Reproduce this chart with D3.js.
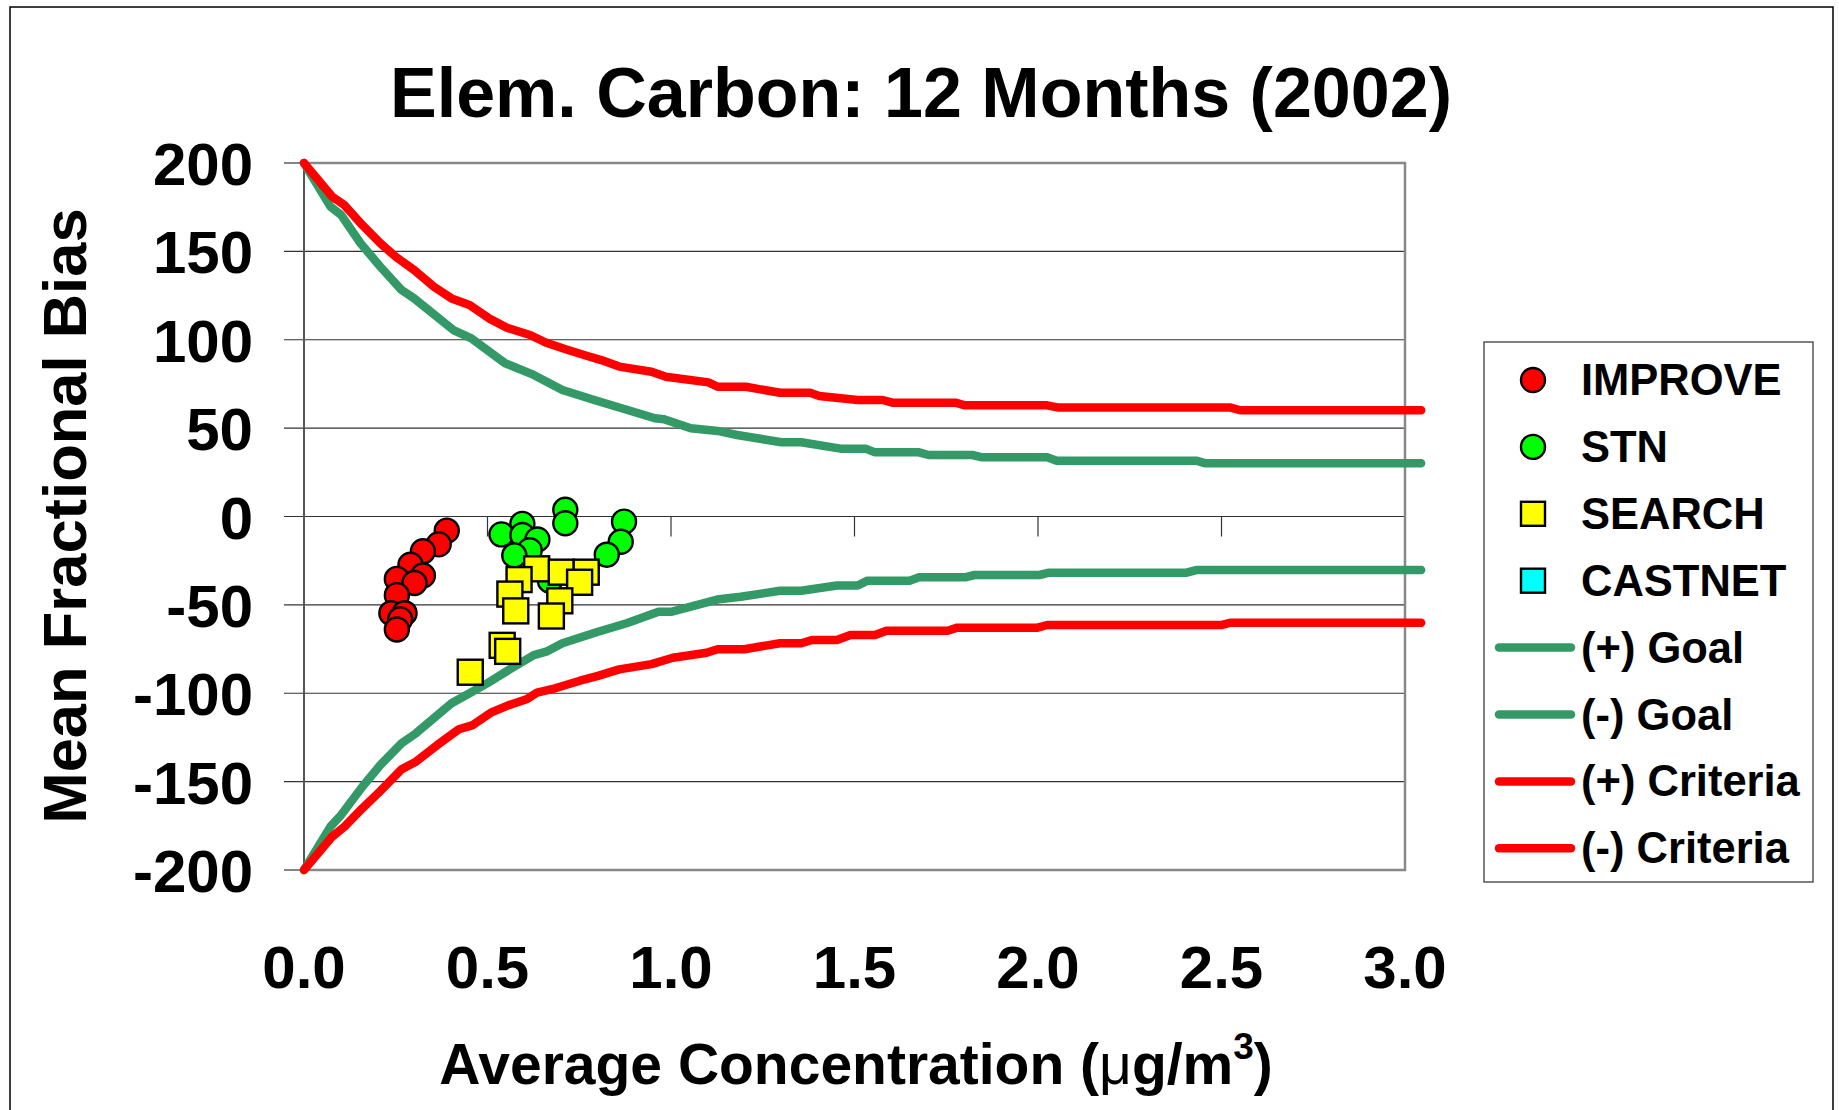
<!DOCTYPE html>
<html>
<head>
	<meta http-equiv="Content-Type" content="text/html; charset=utf-8">
	<title>Elem. Carbon MFB</title>
	<script src="https://d3js.org/d3.v7.min.js"></script>
	<style>
		body { margin: 0; background: #fff; }
		text {
			font-family: 'Liberation Sans', Arial, sans-serif;
			font-weight: bold;
			fill: #000;
		}
		.grid line { stroke: #333; stroke-width: 1.2; }
		.curve { fill: none; stroke-width: 8.5; stroke-linejoin: round; stroke-linecap: round; }
	</style>
</head>
<body>
<script>
	// observations
	var improveX = [0.389, 0.367, 0.324, 0.290, 0.324, 0.253, 0.301, 0.253, 0.238, 0.274, 0.262, 0.253];
	var improveY = [-8.0, -15.7, -19.7, -27.3, -33.4, -35.3, -37.6, -44.5, -54.7, -54.7, -58.2, -63.9];

	var stnX = [0.670, 0.712, 0.712, 0.595, 0.538, 0.595, 0.636, 0.615, 0.573, 0.872, 0.863, 0.825];
	var stnY = [-36.3, 3.8, -3.8, -4.2, -10.1, -10.5, -13.0, -19.1, -22.0, -2.9, -14.3, -21.6];

	var searchX = [0.634, 0.701, 0.769, 0.751, 0.586, 0.561, 0.697, 0.577, 0.674, 0.540, 0.555, 0.453];
	var searchY = [-29.6, -31.5, -31.5, -37.2, -35.7, -43.9, -47.7, -53.4, -56.3, -72.9, -76.3, -88.1];

	var castnetX = [];
	var castnetY = [];

	// goal / criteria curves
	var goalPosX = [0, 0.072, 0.101, 0.154, 0.208, 0.266, 0.300, 0.407, 0.456, 0.548, 0.626, 0.704, 0.791, 0.956, 0.981, 1.054, 1.127, 1.180, 1.301, 1.355, 1.462, 1.530, 1.556, 1.676, 1.702, 1.821, 1.848, 2.025, 2.051, 2.431, 2.457, 3.044];
	var goalPosY = [200, 175.3, 170.6, 154.6, 141.3, 128.1, 123.4, 105.5, 100.8, 86.7, 80.1, 71.6, 65.9, 55.6, 55.0, 49.9, 48.4, 46.1, 42.0, 42.0, 38.4, 38.4, 36.3, 36.3, 34.8, 34.8, 33.5, 33.5, 31.6, 31.6, 30.1, 30.1];

	var goalNegX = [0, 0.072, 0.101, 0.159, 0.208, 0.266, 0.305, 0.402, 0.451, 0.499, 0.558, 0.626, 0.660, 0.704, 0.801, 0.879, 0.966, 1.000, 1.054, 1.131, 1.190, 1.297, 1.355, 1.452, 1.509, 1.535, 1.650, 1.676, 1.801, 1.827, 2.004, 2.030, 2.405, 2.431, 3.044];
	var goalNegY = [-200, -175.5, -168.9, -152.9, -140.6, -128.3, -122.7, -105.7, -100.0, -94.4, -86.8, -78.4, -76.5, -71.7, -65.2, -60.4, -53.9, -53.9, -51.0, -46.8, -45.4, -42.0, -42.0, -39.0, -39.0, -36.3, -36.3, -34.4, -34.4, -33.1, -33.1, -31.8, -31.8, -30.3, -30.3];

	var critPosX = [0, 0.077, 0.110, 0.159, 0.208, 0.252, 0.300, 0.354, 0.402, 0.451, 0.504, 0.553, 0.616, 0.660, 0.713, 0.772, 0.810, 0.859, 0.947, 0.986, 1.102, 1.127, 1.204, 1.297, 1.379, 1.404, 1.509, 1.577, 1.603, 1.775, 1.801, 2.025, 2.056, 2.525, 2.551, 3.044];
	var critPosY = [200, 180.9, 176.2, 164.9, 154.6, 146.6, 139.5, 130, 123.4, 119.7, 112.1, 106.8, 102.7, 98.3, 94.6, 90.8, 88.5, 84.8, 81.9, 79.1, 75.9, 73.4, 73.4, 70.0, 70.0, 68.2, 65.9, 65.9, 64.4, 64.4, 62.9, 62.9, 61.6, 61.6, 60.1, 60.1];

	var critNegX = [0, 0.077, 0.110, 0.159, 0.208, 0.266, 0.305, 0.363, 0.422, 0.460, 0.509, 0.558, 0.606, 0.635, 0.684, 0.752, 0.801, 0.859, 0.947, 1.005, 1.097, 1.127, 1.200, 1.297, 1.355, 1.384, 1.452, 1.489, 1.556, 1.587, 1.754, 1.780, 1.999, 2.025, 2.499, 2.525, 3.044];
	var critNegY = [-200, -181.1, -175.5, -165.1, -155.3, -143.0, -138.7, -129.3, -120.4, -118.0, -111.0, -106.7, -103.4, -99.7, -97.2, -92.9, -90.2, -86.5, -83.5, -79.9, -77.1, -75.1, -75.1, -71.7, -71.7, -69.9, -69.9, -67.0, -67.0, -64.6, -64.6, -62.9, -62.9, -61.4, -61.4, -60.1, -60.1];

	// axis ticks
	var xTicks = [0, 0.5, 1.0, 1.5, 2.0, 2.5, 3.0];
	var yTicks = [-200, -150, -100, -50, 0, 50, 100, 150, 200];

	var legendNames = ["IMPROVE", "STN", "SEARCH", "CASTNET", "(+) Goal", "(-) Goal", "(+) Criteria", "(-) Criteria"];

	var width = 1839, height = 1110;

	var svg = d3.select("body").append("svg")
			.attr("width", width)
			.attr("height", height);

	svg.append("rect")
			.attr("width", width).attr("height", height)
			.attr("fill", "#fff");

	// outer chart border (runs off the bottom)
	svg.append("rect")
			.attr("x", 10).attr("y", 7)
			.attr("width", 1823).attr("height", 1120)
			.attr("fill", "none")
			.attr("stroke", "#000")
			.attr("stroke-width", 1.5);

	var x = d3.scaleLinear().domain([0, 3]).range([304, 1405]);
	var y = d3.scaleLinear().domain([-200, 200]).range([870, 163]);

	var zip = function(xs, ys) { return xs.map(function(d, i) { return [d, ys[i]]; }); };

	// horizontal gridlines + y ticks
	var grid = svg.append("g").attr("class", "grid");
	grid.selectAll(".h")
			.data(yTicks.filter(function(d) { return d > -200 && d < 200; }))
			.enter().append("line")
			.attr("x1", x(0) - 20).attr("x2", x(3))
			.attr("y1", function(d) { return y(d); })
			.attr("y2", function(d) { return y(d); });
	grid.selectAll(".t")
			.data([-200, 200])
			.enter().append("line")
			.attr("x1", x(0) - 20).attr("x2", x(0))
			.attr("y1", function(d) { return y(d); })
			.attr("y2", function(d) { return y(d); });

	// x ticks hang down from the zero line
	grid.selectAll(".xt")
			.data(xTicks.slice(1))
			.enter().append("line")
			.attr("x1", function(d) { return x(d); })
			.attr("x2", function(d) { return x(d); })
			.attr("y1", y(0)).attr("y2", y(0) + 20);

	// plot area frame: gray top, bottom, right; y axis
	svg.append("path")
			.attr("d", "M" + x(0) + "," + y(200) + "H" + x(3) + "V" + y(-200) + "H" + x(0))
			.attr("fill", "none")
			.attr("stroke", "#888")
			.attr("stroke-width", 2.5);
	svg.append("line")
			.attr("x1", x(0)).attr("x2", x(0))
			.attr("y1", y(200)).attr("y2", y(-200))
			.attr("stroke", "#555")
			.attr("stroke-width", 2);

	// tick labels
	svg.append("g").selectAll("text")
			.data(yTicks)
			.enter().append("text")
			.attr("x", 253)
			.attr("y", function(d) { return y(d) + 22; })
			.attr("text-anchor", "end")
			.style("font-size", "60px")
			.text(function(d) { return d; });

	svg.append("g").selectAll("text")
			.data(xTicks)
			.enter().append("text")
			.attr("x", function(d) { return x(d); })
			.attr("y", 988)
			.attr("text-anchor", "middle")
			.style("font-size", "60px")
			.text(function(d) { return d3.format(".1f")(d); });

	// titles
	svg.append("text")
			.attr("x", 921).attr("y", 117)
			.attr("text-anchor", "middle")
			.style("font-size", "70px")
			.text("Elem. Carbon: 12 Months (2002)");

	svg.append("text")
			.attr("transform", "translate(86,516) rotate(-90)")
			.attr("text-anchor", "middle")
			.style("font-size", "61.5px")
			.text("Mean Fractional Bias");

	var xt = svg.append("text")
			.attr("x", 856).attr("y", 1084)
			.attr("text-anchor", "middle")
			.style("font-size", "57px");
	xt.append("tspan").text("Average Concentration (");
	xt.append("tspan").style("font-weight", "normal").text("\u03bc");
	xt.append("tspan").text("g/m");
	xt.append("tspan").attr("dy", -25).style("font-size", "37px").text("3");
	xt.append("tspan").attr("dy", 25).text(")");

	// goal and criteria curves
	var line = d3.line()
			.x(function(d) { return x(d[0]); })
			.y(function(d) { return y(d[1]); });

	var curves = [
		{data: zip(goalPosX, goalPosY), color: "#339966"},
		{data: zip(goalNegX, goalNegY), color: "#339966"},
		{data: zip(critPosX, critPosY), color: "#ff0000"},
		{data: zip(critNegX, critNegY), color: "#ff0000"}
	];
	svg.append("g").selectAll("path")
			.data(curves)
			.enter().append("path")
			.attr("class", "curve")
			.attr("d", function(d) { return line(d.data); })
			.style("stroke", function(d) { return d.color; });

	// markers
	function circles(xs, ys, fill) {
		svg.append("g").selectAll("circle")
				.data(zip(xs, ys))
				.enter().append("circle")
				.attr("cx", function(d) { return x(d[0]); })
				.attr("cy", function(d) { return y(d[1]); })
				.attr("r", 12)
				.attr("fill", fill)
				.attr("stroke", "#000")
				.attr("stroke-width", 2.4);
	}
	function squares(xs, ys, fill) {
		svg.append("g").selectAll("rect")
				.data(zip(xs, ys))
				.enter().append("rect")
				.attr("x", function(d) { return x(d[0]) - 12.5; })
				.attr("y", function(d) { return y(d[1]) - 12.5; })
				.attr("width", 25).attr("height", 25)
				.attr("fill", fill)
				.attr("stroke", "#000")
				.attr("stroke-width", 2.4);
	}
	circles(improveX, improveY, "#ff0000");
	circles(stnX, stnY, "#00ff00");
	squares(searchX, searchY, "#ffff00");
	squares(castnetX, castnetY, "#00ffff");

	// legend
	var lg = svg.append("g");
	lg.append("rect")
			.attr("x", 1484).attr("y", 342)
			.attr("width", 329).attr("height", 540)
			.attr("fill", "#fff")
			.attr("stroke", "#555")
			.attr("stroke-width", 1.5);

	var kinds = [
		{t: "c", c: "#ff0000"}, {t: "c", c: "#00ff00"}, {t: "s", c: "#ffff00"}, {t: "s", c: "#00ffff"},
		{t: "l", c: "#339966"}, {t: "l", c: "#339966"}, {t: "l", c: "#ff0000"}, {t: "l", c: "#ff0000"}
	];
	var item = lg.selectAll(".item")
			.data(legendNames)
			.enter().append("g")
			.attr("transform", function(d, i) { return "translate(0," + (380 + i * 66.9) + ")"; });

	item.each(function(d, i) {
		var g = d3.select(this), k = kinds[i];
		if (k.t == "c") {
			g.append("circle").attr("cx", 1533).attr("cy", 0).attr("r", 12)
					.attr("fill", k.c).attr("stroke", "#000").attr("stroke-width", 2.4);
		} else if (k.t == "s") {
			g.append("rect").attr("x", 1521).attr("y", -12).attr("width", 24).attr("height", 24)
					.attr("fill", k.c).attr("stroke", "#000").attr("stroke-width", 2.4);
		} else {
			g.append("line").attr("x1", 1499).attr("x2", 1571).attr("y1", 0).attr("y2", 0)
					.attr("stroke", k.c).attr("stroke-width", 8.5).attr("stroke-linecap", "round");
		}
		g.append("text")
				.attr("x", 1581).attr("y", 15)
				.style("font-size", "43.5px")
				.text(d);
	});
</script>
</body>
</html>
